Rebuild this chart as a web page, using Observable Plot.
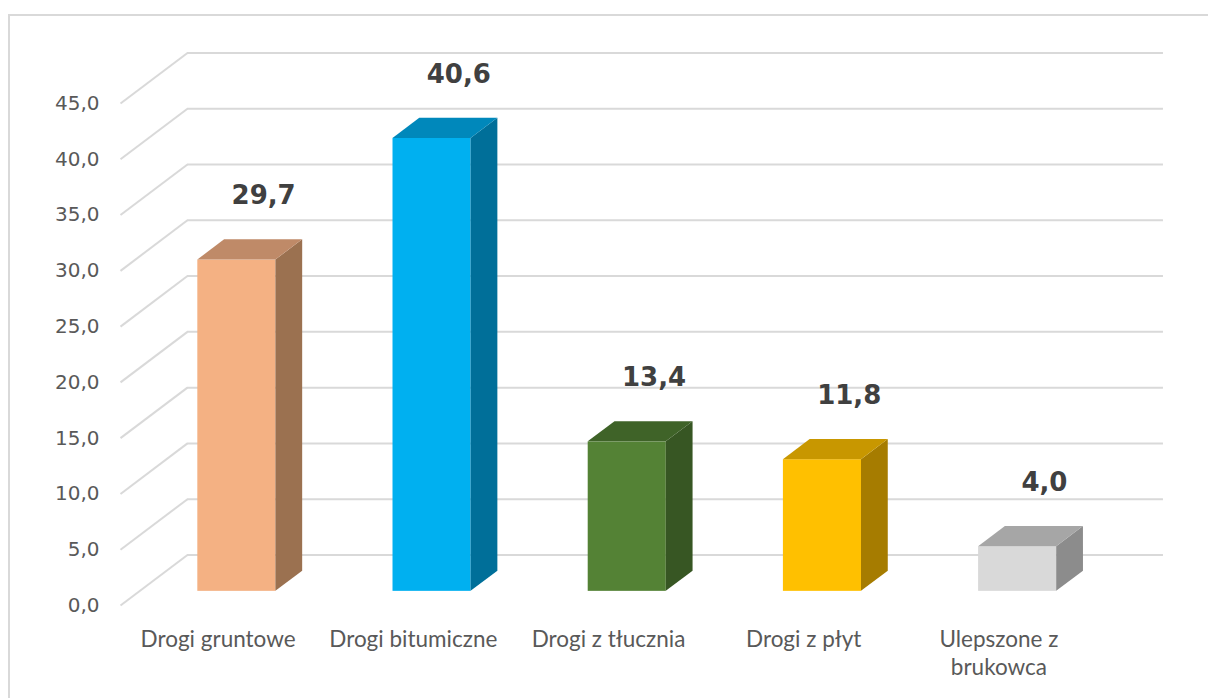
<!DOCTYPE html>
<html>
<head>
<meta charset="utf-8">
<script src="https://cdn.jsdelivr.net/npm/d3@7"></script>
<script src="https://cdn.jsdelivr.net/npm/@observablehq/plot@0.6"></script>
<style>
  html, body { margin: 0; padding: 0; background: #ffffff; }
  #wrap { position: relative; width: 1208px; height: 698px; overflow: hidden; }
  #frame { position: absolute; left: 8px; top: 14px; width: 1220px; height: 720px; border: 2px solid #d9d9d9; box-sizing: border-box; }
  #chart { position: absolute; left: 0; top: 0; }
</style>
</head>
<body>
<div id="wrap"><div id="frame"></div><div id="chart"></div></div>
<script>
// ---- data ----
const categories = ["Drogi gruntowe", "Drogi bitumiczne", "Drogi z tłucznia", "Drogi z płyt", "Ulepszone z\nbrukowca"];
const values = [29.7, 40.6, 13.4, 11.8, 4.0];
const yTicks = [0, 5, 10, 15, 20, 25, 30, 35, 40, 45];

// ---- palette ----
const frontColors = ["#f4b183", "#00b0f0", "#548235", "#ffc000", "#d9d9d9"];
const topColors   = ["#bf8a68", "#0088bb", "#3f6328", "#c89700", "#a6a6a6"];
const sideColors  = ["#9b7150", "#006f99", "#375623", "#a67c00", "#8c8c8c"];

// ---- oblique projection (in scale units) ----
const KX = 0.343;   // horizontal shift of full depth, in category bands
const KY = 4.53;    // vertical shift of full depth, in value units
const D0 = 0.28, D1 = 0.68;       // bar front/back depth
const BL = 0.3, BR = 0.7;         // bar left/right within band

const fmt = d => d.toFixed(1).replace(".", ",");

const bars = categories.map((c, i) => ({i, category: c, value: values[i]}));

const fronts = bars.map(b => ({
  x1: b.i + BL + D0 * KX, x2: b.i + BR + D0 * KX,
  y1: D0 * KY, y2: b.value + D0 * KY, fill: frontColors[b.i]
}));
const tops = bars.flatMap(b => [D0, D1].map(d => ({
  bar: b.i, y: b.value + d * KY, x1: b.i + BL + d * KX, x2: b.i + BR + d * KX, fill: topColors[b.i]
})));
const sides = bars.flatMap(b => [D0, D1].map(d => ({
  bar: b.i, x: b.i + BR + d * KX, y1: d * KY, y2: b.value + d * KY, fill: sideColors[b.i]
})));

const grid = "#d9d9d9";
const chart = Plot.plot({
  width: 1208,
  height: 698,
  marginLeft: 120,
  marginRight: 112,
  marginTop: 103,
  marginBottom: 93,
  style: {background: "transparent", overflow: "visible"},
  x: {domain: [0, categories.length], axis: null},
  y: {domain: [0, 45], axis: null},
  color: {type: "identity"},
  marks: [
    // back wall gridlines
    Plot.ruleY(yTicks, {y: d => d + KY, x1: KX, x2: categories.length + KX, stroke: grid, strokeWidth: 2}),
    // side wall diagonals
    Plot.link(yTicks, {x1: 0, y1: d => d, x2: KX, y2: d => d + KY, stroke: grid, strokeWidth: 2}),
    // y axis labels on the front plane
    Plot.axisY({ticks: yTicks, tickSize: 0, tickPadding: 21, tickFormat: fmt,
      fontSize: 20, fontFamily: "DejaVu Sans", color: "#595959"}),
    // bars: front, side, top
    Plot.rect(fronts, {x1: "x1", x2: "x2", y1: "y1", y2: "y2", fill: "fill"}),
    Plot.areaY(sides, {x: "x", y1: "y1", y2: "y2", z: "bar", fill: "fill", curve: "linear"}),
    Plot.areaX(tops, {y: "y", x1: "x1", x2: "x2", z: "bar", fill: "fill", curve: "linear"}),
    // value labels
    Plot.text(bars, {x: b => b.i + 0.5 + D1 * KX, y: b => b.value + D1 * KY, text: b => fmt(b.value),
      dy: -44, fontSize: 26, fontWeight: "bold", fontFamily: "DejaVu Sans", fill: "#404040"}),
    // category labels
    Plot.text(bars, {x: b => b.i + 0.5, y: 0, text: "category", lineAnchor: "top", dy: 22,
      lineHeight: 1.24, fontSize: 22.5, fontFamily: "Lato", fill: "#595959"})
  ]
});
document.getElementById("chart").appendChild(chart);
</script>
</body>
</html>
